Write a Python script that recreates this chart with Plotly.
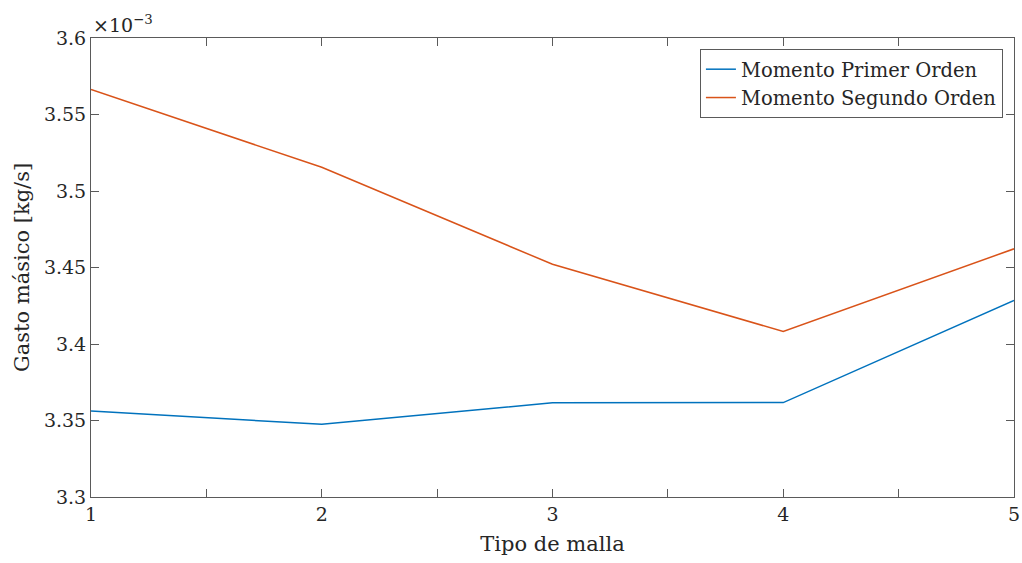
import plotly.graph_objects as go

x_malla = [1, 2, 3, 4, 5]
primer_orden = [3.3562e-3, 3.3475e-3, 3.3616e-3, 3.3617e-3, 3.4284e-3]
segundo_orden = [3.5663e-3, 3.5155e-3, 3.4521e-3, 3.4082e-3, 3.4622e-3]
serie_nombres = ["Momento Primer Orden", "Momento Segundo Orden"]
y_ticks = [3.3, 3.35, 3.4, 3.45, 3.5, 3.55, 3.6]
x_ticks = [1, 2, 3, 4, 5]
x_minor_ticks = [1.5, 2.5, 3.5, 4.5]

FONT = "DejaVu Serif, Liberation Serif, serif"
AX = "#5a5a5a"
TXT = "#262626"
FS = 19

fig = go.Figure()
fig.add_trace(go.Scatter(x=x_malla, y=[v * 1e3 for v in primer_orden], mode="lines",
                         name=serie_nombres[0], line=dict(color="#0072BD", width=1.5)))
fig.add_trace(go.Scatter(x=x_malla, y=[v * 1e3 for v in segundo_orden], mode="lines",
                         name=serie_nombres[1], line=dict(color="#D95319", width=1.5)))

fig.update_layout(
    width=1022, height=563,
    margin=dict(l=91, r=8, t=38, b=66, autoexpand=False),
    paper_bgcolor="white", plot_bgcolor="white",
    font=dict(family=FONT, size=FS, color=TXT),
    showlegend=True,
    legend=dict(x=0.988, y=0.976, xanchor="right", yanchor="top",
                bgcolor="white", bordercolor=AX, borderwidth=1,
                font=dict(family=FONT, size=19.5, color=TXT),
                itemwidth=30, tracegroupgap=0),
    xaxis=dict(range=[1, 5], tickmode="array", tickvals=x_ticks,
               ticktext=[str(v) for v in x_ticks],
               ticks="inside", ticklen=8, tickcolor=AX, tickwidth=1,
               minor=dict(tickmode="array", tickvals=x_minor_ticks, ticks="inside",
                          ticklen=8, tickcolor=AX, tickwidth=1, showgrid=False),
               showline=True, linecolor=AX, linewidth=1, mirror="ticks",
               showgrid=False, zeroline=False, automargin=False,
               tickfont=dict(family=FONT, size=FS, color=TXT),
               title=dict(text="Tipo de malla", font=dict(family=FONT, size=21, color=TXT), standoff=12)),
    yaxis=dict(range=[3.3, 3.6], tickmode="array", tickvals=y_ticks,
               ticktext=[f"{v:g}" for v in y_ticks],
               ticks="inside", ticklen=8, tickcolor=AX, tickwidth=1,
               showline=True, linecolor=AX, linewidth=1, mirror="ticks",
               showgrid=False, zeroline=False, automargin=False,
               tickfont=dict(family=FONT, size=FS, color=TXT),
               title=dict(text="Gasto másico [kg/s]", font=dict(family=FONT, size=21, color=TXT), standoff=8)),
)

fig.add_annotation(text="×10<sup>−3</sup>", xref="paper", yref="paper", x=0, y=1,
                   xanchor="left", yanchor="bottom", showarrow=False, yshift=0,
                   font=dict(family=FONT, size=19, color=TXT))

fig.write_html("out.html", config={"displayModeBar": False},
               post_script="document.body.style.margin='0';document.body.style.overflow='hidden';")
